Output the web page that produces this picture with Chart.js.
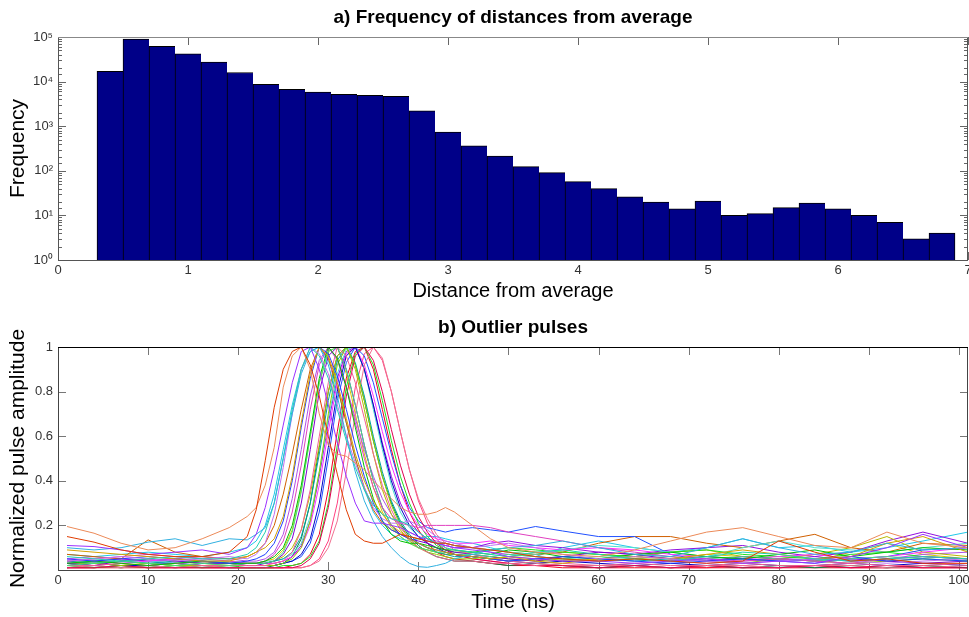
<!DOCTYPE html>
<html>
<head>
<meta charset="utf-8">
<script src="https://cdn.jsdelivr.net/npm/chart.js@4.4.0/dist/chart.umd.min.js"></script>
<style>
    body { margin: 0; background: #fff; }
    canvas { display: block; }
</style>
</head>
<body>
<canvas id="hist-chart" width="969" height="310"></canvas>
<canvas id="pulse-chart" width="969" height="307"></canvas>
<script>
// ---- a) histogram ----
const binCenters = [0.4, 0.6, 0.8, 1.0, 1.2, 1.4, 1.6, 1.8, 2.0, 2.2, 2.4, 2.6, 2.8, 3.0, 3.2, 3.4, 3.6,
    3.8, 4.0, 4.2, 4.4, 4.6, 4.8, 5.0, 5.2, 5.4, 5.6, 5.8, 6.0, 6.2, 6.4, 6.6, 6.8];
const binCounts = [17000, 90000, 62000, 42000, 27500, 16000, 8700, 6700, 5800, 5200, 4900, 4700, 2200, 740, 365,
    215, 124, 91, 57, 40, 26, 20, 14, 21, 10, 11, 15, 19, 14, 10, 7, 3, 4];
const distTicks = [0, 1, 2, 3, 4, 5, 6, 7];

// ---- b) outlier pulses, sampled on a shared time grid (ns) ----
const timeNs = [1, 4, 7, 10, 13, 16, 19, 21, 22, 23, 24, 25, 26, 27, 28, 29, 30, 31, 32, 33, 34, 35, 36, 37, 38, 39,
    40, 41, 42, 43, 44, 46, 48, 50, 53, 56, 60, 64, 68, 72, 76, 80, 84, 88, 92, 96, 101];

const pulseRed = [0.15, 0.125, 0.09, 0.07, 0.06, 0.06, 0.08, 0.15,
    0.27, 0.49, 0.73, 0.9, 0.98, 1.0, 0.92, 0.78, 0.6, 0.43, 0.27, 0.16, 0.13, 0.12, 0.12, 0.14, 0.16, 0.15, 0.14, 0.13, 0.12, 0.12, 0.11,
    0.1, 0.09, 0.08, 0.06, 0.05, 0.04, 0.05, 0.04, 0.03, 0.04, 0.13, 0.08, 0.04, 0.05, 0.03, 0.03];
const pulseSalmon = [0.195, 0.165, 0.12, 0.09, 0.1, 0.14, 0.19, 0.24,
    0.28, 0.38, 0.55, 0.82, 0.96, 1.0, 0.9, 0.7, 0.56, 0.52, 0.51, 0.48, 0.45, 0.4, 0.36, 0.32, 0.28, 0.26, 0.25, 0.25, 0.26, 0.28, 0.26,
    0.2, 0.14, 0.1, 0.08, 0.07, 0.06, 0.09, 0.13, 0.17, 0.19, 0.15, 0.11, 0.1, 0.17, 0.12, 0.1];
const pulsePurple = [0.11, 0.105, 0.09, 0.07, 0.08, 0.09, 0.07, 0.1,
    0.16, 0.28, 0.45, 0.65, 0.84, 0.98, 1.0, 0.9, 0.74, 0.57, 0.42, 0.3, 0.22, 0.21, 0.21, 0.2, 0.19, 0.17, 0.15, 0.13, 0.12, 0.11, 0.1,
    0.09, 0.08, 0.06, 0.05, 0.04, 0.04, 0.03, 0.04, 0.05, 0.03, 0.04, 0.03, 0.06, 0.1, 0.16, 0.1];
const pulseSky = [0.1, 0.09, 0.1, 0.125, 0.14, 0.11, 0.14, 0.135,
    0.16, 0.19, 0.3, 0.5, 0.7, 0.88, 0.98, 1.0, 0.92, 0.78, 0.6, 0.44, 0.31, 0.22, 0.15, 0.1, 0.06, 0.03, 0.015, 0.012, 0.02, 0.03, 0.05,
    0.07, 0.09, 0.1, 0.11, 0.13, 0.1, 0.07, 0.06, 0.1, 0.14, 0.1, 0.07, 0.08, 0.12, 0.09, 0.1];
const pulseTurquoise = [0.06, 0.05, 0.04, 0.05, 0.06, 0.05, 0.05, 0.07,
    0.1, 0.17, 0.3, 0.5, 0.72, 0.9, 1.0, 0.96, 0.86, 0.72, 0.58, 0.46, 0.36, 0.29, 0.25, 0.23, 0.22, 0.2, 0.17, 0.14, 0.12, 0.1, 0.09,
    0.08, 0.07, 0.06, 0.08, 0.09, 0.07, 0.05, 0.04, 0.06, 0.08, 0.07, 0.05, 0.04, 0.05, 0.06, 0.05];
const pulseLilac = [0.04, 0.05, 0.06, 0.05, 0.04, 0.05, 0.06, 0.05,
    0.07, 0.12, 0.25, 0.46, 0.7, 0.9, 1.0, 0.97, 0.88, 0.74, 0.6, 0.48, 0.37, 0.28, 0.23, 0.21, 0.21, 0.22, 0.2, 0.18, 0.15, 0.13, 0.12,
    0.1, 0.11, 0.12, 0.1, 0.07, 0.05, 0.06, 0.05, 0.04, 0.03, 0.04, 0.05, 0.04, 0.03, 0.04, 0.05];
const pulseGold = [0.09, 0.08, 0.07, 0.06, 0.05, 0.04, 0.04, 0.06,
    0.08, 0.1, 0.14, 0.24, 0.42, 0.66, 0.88, 1.0, 0.96, 0.84, 0.68, 0.52, 0.4, 0.31, 0.25, 0.2, 0.17, 0.14, 0.12, 0.1, 0.09, 0.08, 0.07,
    0.06, 0.05, 0.06, 0.04, 0.03, 0.05, 0.06, 0.05, 0.07, 0.09, 0.07, 0.05, 0.06, 0.12, 0.15, 0.08];
const pulseBlue = [0.05, 0.04, 0.05, 0.06, 0.05, 0.04, 0.03, 0.04,
    0.05, 0.07, 0.12, 0.22, 0.4, 0.64, 0.86, 1.0, 0.97, 0.87, 0.72, 0.56, 0.42, 0.3, 0.22, 0.18, 0.16, 0.14, 0.12, 0.1, 0.09, 0.08, 0.07,
    0.06, 0.05, 0.04, 0.05, 0.06, 0.05, 0.04, 0.03, 0.04, 0.05, 0.04, 0.05, 0.06, 0.04, 0.05, 0.04];
const pulseGreen = [0.03, 0.04, 0.03, 0.02, 0.03, 0.04, 0.03, 0.03,
    0.03, 0.04, 0.06, 0.1, 0.2, 0.38, 0.62, 0.86, 1.0, 0.95, 0.82, 0.64, 0.46, 0.32, 0.22, 0.16, 0.13, 0.12, 0.12, 0.11, 0.1, 0.09, 0.09,
    0.08, 0.07, 0.09, 0.08, 0.06, 0.05, 0.07, 0.08, 0.06, 0.05, 0.07, 0.09, 0.06, 0.08, 0.1, 0.09];
const pulseMagenta = [0.04, 0.05, 0.06, 0.07, 0.06, 0.05, 0.04, 0.03,
    0.03, 0.04, 0.07, 0.13, 0.26, 0.47, 0.72, 0.92, 1.0, 0.95, 0.82, 0.66, 0.5, 0.37, 0.28, 0.23, 0.21, 0.2, 0.19, 0.2, 0.2, 0.2, 0.2,
    0.2, 0.19, 0.17, 0.15, 0.13, 0.1, 0.08, 0.06, 0.05, 0.04, 0.05, 0.04, 0.03, 0.05, 0.06, 0.05];
const pulseMint = [0.02, 0.03, 0.04, 0.03, 0.02, 0.03, 0.02, 0.03,
    0.03, 0.03, 0.04, 0.08, 0.17, 0.35, 0.6, 0.84, 0.98, 1.0, 0.9, 0.74, 0.56, 0.4, 0.28, 0.2, 0.15, 0.12, 0.1, 0.09, 0.08, 0.08, 0.07,
    0.07, 0.06, 0.07, 0.06, 0.05, 0.06, 0.05, 0.04, 0.05, 0.06, 0.05, 0.04, 0.05, 0.06, 0.05, 0.04];
const pulsePink = [0.02, 0.02, 0.03, 0.02, 0.03, 0.02, 0.02, 0.02,
    0.02, 0.02, 0.03, 0.04, 0.08, 0.18, 0.36, 0.6, 0.84, 1.0, 0.96, 0.84, 0.68, 0.52, 0.38, 0.27, 0.19, 0.14, 0.1, 0.08, 0.06, 0.05, 0.04,
    0.04, 0.03, 0.03, 0.02, 0.03, 0.02, 0.03, 0.02, 0.02, 0.03, 0.02, 0.02, 0.03, 0.02, 0.02, 0.03];
const pulseViolet = [0.03, 0.02, 0.04, 0.05, 0.04, 0.03, 0.03, 0.02,
    0.02, 0.03, 0.04, 0.07, 0.14, 0.3, 0.54, 0.8, 0.96, 1.0, 0.9, 0.74, 0.56, 0.4, 0.28, 0.2, 0.16, 0.14, 0.13, 0.12, 0.1, 0.09, 0.08,
    0.07, 0.06, 0.05, 0.04, 0.06, 0.08, 0.07, 0.05, 0.04, 0.06, 0.05, 0.04, 0.05, 0.04, 0.03, 0.04];
const pulseLime = [0.03, 0.03, 0.02, 0.03, 0.02, 0.02, 0.02, 0.02,
    0.02, 0.02, 0.02, 0.03, 0.05, 0.1, 0.22, 0.44, 0.7, 0.92, 1.0, 0.92, 0.76, 0.58, 0.42, 0.29, 0.2, 0.14, 0.1, 0.08, 0.07, 0.06, 0.05,
    0.05, 0.06, 0.05, 0.04, 0.05, 0.04, 0.05, 0.06, 0.04, 0.03, 0.05, 0.04, 0.03, 0.04, 0.05, 0.04];
const pulseCrimson = [0.01, 0.01, 0.02, 0.01, 0.01, 0.01, 0.01, 0.01,
    0.01, 0.01, 0.01, 0.01, 0.01, 0.02, 0.05, 0.12, 0.28, 0.52, 0.78, 0.96, 1.0, 0.94, 0.8, 0.63, 0.47, 0.34, 0.24, 0.17, 0.12, 0.09, 0.07,
    0.05, 0.04, 0.03, 0.02, 0.02, 0.01, 0.02, 0.01, 0.02, 0.01, 0.01, 0.02, 0.01, 0.02, 0.01, 0.01];
const pulseRose = [0.01, 0.02, 0.01, 0.02, 0.01, 0.02, 0.01, 0.01,
    0.01, 0.01, 0.01, 0.01, 0.01, 0.01, 0.02, 0.04, 0.1, 0.22, 0.44, 0.7, 0.92, 1.0, 0.95, 0.8, 0.62, 0.45, 0.32, 0.23, 0.16, 0.12, 0.09,
    0.07, 0.05, 0.04, 0.03, 0.02, 0.02, 0.02, 0.01, 0.02, 0.02, 0.01, 0.02, 0.02, 0.01, 0.01, 0.02];
const pulseTeal = [0.04, 0.03, 0.04, 0.03, 0.04, 0.03, 0.03, 0.03,
    0.03, 0.03, 0.04, 0.05, 0.08, 0.15, 0.3, 0.52, 0.76, 0.94, 1.0, 0.93, 0.78, 0.6, 0.44, 0.31, 0.22, 0.16, 0.12, 0.1, 0.08, 0.07, 0.06,
    0.06, 0.05, 0.04, 0.05, 0.06, 0.05, 0.04, 0.05, 0.06, 0.05, 0.04, 0.05, 0.04, 0.05, 0.06, 0.05];
const pulseNavy = [0.02, 0.03, 0.02, 0.02, 0.03, 0.02, 0.02, 0.02,
    0.02, 0.02, 0.02, 0.03, 0.04, 0.07, 0.14, 0.3, 0.55, 0.8, 0.96, 1.0, 0.9, 0.74, 0.56, 0.4, 0.28, 0.2, 0.15, 0.12, 0.1, 0.08, 0.07,
    0.06, 0.05, 0.04, 0.03, 0.04, 0.03, 0.02, 0.03, 0.02, 0.03, 0.02, 0.02, 0.03, 0.02, 0.03, 0.02];
const pulseFuchsia = [0.05, 0.04, 0.03, 0.04, 0.05, 0.04, 0.03, 0.03,
    0.03, 0.03, 0.03, 0.04, 0.06, 0.1, 0.2, 0.38, 0.62, 0.84, 0.97, 1.0, 0.92, 0.78, 0.62, 0.47, 0.35, 0.26, 0.2, 0.16, 0.14, 0.13, 0.12,
    0.12, 0.13, 0.11, 0.1, 0.09, 0.1, 0.09, 0.07, 0.06, 0.05, 0.06, 0.07, 0.05, 0.06, 0.08, 0.1];
const pulseAqua = [0.03, 0.04, 0.03, 0.04, 0.03, 0.04, 0.04, 0.03,
    0.03, 0.04, 0.04, 0.05, 0.07, 0.12, 0.24, 0.44, 0.68, 0.88, 0.99, 1.0, 0.9, 0.72, 0.54, 0.38, 0.26, 0.19, 0.15, 0.13, 0.12, 0.12, 0.11,
    0.1, 0.09, 0.08, 0.07, 0.09, 0.11, 0.1, 0.08, 0.06, 0.1, 0.13, 0.1, 0.09, 0.08, 0.1, 0.12];
const pulseBrightGreen = [0.02, 0.01, 0.02, 0.01, 0.02, 0.01, 0.02, 0.01,
    0.01, 0.01, 0.01, 0.02, 0.02, 0.03, 0.06, 0.13, 0.3, 0.56, 0.82, 0.97, 1.0, 0.92, 0.76, 0.58, 0.42, 0.3, 0.21, 0.15, 0.11, 0.09, 0.08,
    0.08, 0.09, 0.1, 0.09, 0.08, 0.07, 0.06, 0.08, 0.09, 0.07, 0.06, 0.05, 0.07, 0.08, 0.06, 0.05];
const pulseRoyal = [0.03, 0.03, 0.04, 0.03, 0.03, 0.02, 0.02, 0.02,
    0.02, 0.02, 0.02, 0.03, 0.04, 0.06, 0.12, 0.26, 0.5, 0.76, 0.93, 1.0, 0.96, 0.84, 0.68, 0.52, 0.38, 0.28, 0.22, 0.19, 0.18, 0.17, 0.18,
    0.19, 0.18, 0.17, 0.195, 0.175, 0.15, 0.15, 0.07, 0.04, 0.05, 0.04, 0.03, 0.05, 0.06, 0.09, 0.1];
const pulseRust = [0.07, 0.06, 0.05, 0.135, 0.08, 0.06, 0.05, 0.06,
    0.08, 0.12, 0.2, 0.34, 0.52, 0.72, 0.9, 1.0, 0.95, 0.82, 0.66, 0.5, 0.37, 0.27, 0.21, 0.18, 0.16, 0.15, 0.14, 0.13, 0.12, 0.12, 0.11,
    0.1, 0.09, 0.08, 0.07, 0.08, 0.12, 0.15, 0.15, 0.12, 0.1, 0.13, 0.16, 0.1, 0.08, 0.12, 0.11];
const pulseOlive = [0.02, 0.03, 0.02, 0.03, 0.02, 0.03, 0.02, 0.03,
    0.03, 0.03, 0.04, 0.06, 0.1, 0.18, 0.34, 0.56, 0.8, 0.96, 1.0, 0.9, 0.72, 0.52, 0.36, 0.25, 0.18, 0.13, 0.1, 0.09, 0.08, 0.07, 0.07,
    0.06, 0.05, 0.06, 0.07, 0.08, 0.07, 0.06, 0.08, 0.09, 0.06, 0.05, 0.07, 0.1, 0.15, 0.08, 0.06];
const pulseIndigo = [0.03, 0.04, 0.05, 0.04, 0.03, 0.04, 0.03, 0.03,
    0.03, 0.03, 0.03, 0.04, 0.06, 0.11, 0.22, 0.42, 0.66, 0.86, 0.98, 1.0, 0.9, 0.74, 0.57, 0.42, 0.3, 0.22, 0.17, 0.14, 0.12, 0.11, 0.1,
    0.1, 0.12, 0.13, 0.11, 0.1, 0.08, 0.07, 0.09, 0.1, 0.11, 0.08, 0.06, 0.08, 0.13, 0.17, 0.12];
const pulseForest = [0.01, 0.02, 0.01, 0.02, 0.01, 0.02, 0.01, 0.01,
    0.01, 0.01, 0.02, 0.03, 0.06, 0.14, 0.3, 0.55, 0.8, 0.96, 1.0, 0.92, 0.76, 0.58, 0.42, 0.3, 0.21, 0.15, 0.11, 0.08, 0.06, 0.05, 0.04,
    0.04, 0.03, 0.02, 0.03, 0.02, 0.01, 0.02, 0.01, 0.02, 0.01, 0.02, 0.01, 0.02, 0.01, 0.02, 0.01];
const pulseCyan = [0.07, 0.06, 0.07, 0.08, 0.07, 0.06, 0.08, 0.1,
    0.13, 0.2, 0.34, 0.54, 0.74, 0.9, 0.98, 1.0, 0.94, 0.82, 0.66, 0.5, 0.36, 0.26, 0.2, 0.16, 0.14, 0.13, 0.14, 0.15, 0.15, 0.14, 0.13,
    0.12, 0.1, 0.08, 0.06, 0.1, 0.13, 0.1, 0.08, 0.1, 0.14, 0.1, 0.11, 0.08, 0.1, 0.13, 0.17];
const pulseScarlet = [0.01, 0.01, 0.01, 0.01, 0.01, 0.01, 0.01, 0.01,
    0.01, 0.01, 0.01, 0.01, 0.02, 0.03, 0.07, 0.16, 0.36, 0.62, 0.86, 0.98, 1.0, 0.9, 0.72, 0.54, 0.38, 0.26, 0.18, 0.12, 0.08, 0.06, 0.05,
    0.04, 0.03, 0.02, 0.02, 0.01, 0.01, 0.01, 0.01, 0.01, 0.01, 0.01, 0.01, 0.01, 0.01, 0.01, 0.01];
const pulseOrchid = [0.05, 0.06, 0.05, 0.04, 0.05, 0.06, 0.05, 0.04,
    0.04, 0.05, 0.08, 0.16, 0.32, 0.54, 0.78, 0.94, 1.0, 0.94, 0.82, 0.68, 0.54, 0.42, 0.32, 0.25, 0.2, 0.17, 0.15, 0.14, 0.13, 0.12, 0.11,
    0.1, 0.08, 0.07, 0.06, 0.05, 0.04, 0.05, 0.04, 0.03, 0.04, 0.05, 0.06, 0.04, 0.05, 0.07, 0.08];
const pulseYellow = [0.04, 0.03, 0.04, 0.05, 0.04, 0.03, 0.04, 0.03,
    0.03, 0.04, 0.05, 0.09, 0.18, 0.36, 0.6, 0.84, 0.98, 1.0, 0.88, 0.7, 0.52, 0.37, 0.26, 0.19, 0.15, 0.12, 0.1, 0.09, 0.08, 0.07, 0.07,
    0.06, 0.05, 0.06, 0.05, 0.04, 0.05, 0.06, 0.05, 0.07, 0.06, 0.05, 0.04, 0.08, 0.12, 0.07, 0.05];
const pulseHotPink = [0.01, 0.01, 0.02, 0.01, 0.02, 0.01, 0.01, 0.01,
    0.01, 0.01, 0.01, 0.01, 0.01, 0.01, 0.02, 0.05, 0.13, 0.3, 0.56, 0.82, 0.97, 1.0, 0.94, 0.8, 0.62, 0.45, 0.31, 0.21, 0.14, 0.1, 0.07,
    0.05, 0.04, 0.03, 0.02, 0.02, 0.01, 0.02, 0.01, 0.01, 0.02, 0.01, 0.02, 0.01, 0.01, 0.02, 0.01];

const pulses = [pulseRed, pulseSalmon, pulsePurple, pulseSky, pulseTurquoise, pulseLilac, pulseGold, pulseBlue,
    pulseGreen, pulseMagenta, pulseMint, pulsePink, pulseViolet, pulseLime, pulseCrimson, pulseRose, pulseTeal,
    pulseNavy, pulseFuchsia, pulseAqua, pulseBrightGreen, pulseRoyal, pulseRust, pulseOlive, pulseIndigo,
    pulseForest, pulseCyan, pulseScarlet, pulseOrchid, pulseYellow, pulseHotPink];
const pulseColors = ["#e03c00", "#ec8a58", "#9b30ff", "#30b0e0", "#20d0b0", "#c070f0", "#d4a000", "#2040ff",
    "#00c000", "#e040c0", "#40e080", "#f06090", "#8000d0", "#90d000", "#e00050", "#f07090", "#00a0a0",
    "#0000c0", "#ff30ff", "#50e0d0", "#20e020", "#2050ff", "#d06000", "#b8b800", "#9010e0",
    "#008040", "#20c8e8", "#f00020", "#b050e8", "#d8c800", "#ff4080"];

const FONT = '"Liberation Sans", Arial, sans-serif';
const superDigits = ["⁰", "¹", "²", "³", "⁴", "⁵"];

function isPow10(v) {
    const e = Math.log10(v);
    return Math.abs(e - Math.round(e)) < 1e-9;
}

// MATLAB style frame: inward ticks on all four sides, titles
const matlabAxes = {
    id: "matlabAxes",
    beforeDatasetsDraw(chart, args, opts) {
        const { ctx, chartArea: a, scales: { x, y } } = chart;
        ctx.save();
        ctx.strokeStyle = opts.tickColor;
        ctx.lineWidth = 1;
        ctx.beginPath();
        x.ticks.forEach(t => {
            const px = Math.round(x.getPixelForValue(t.value)) + 0.5;
            ctx.moveTo(px, a.bottom);
            ctx.lineTo(px, a.bottom - opts.tickLen);
            ctx.moveTo(px, a.top);
            ctx.lineTo(px, a.top + opts.tickLen);
        });
        y.ticks.forEach(t => {
            const py = Math.round(y.getPixelForValue(t.value)) + 0.5;
            const len = opts.logY && !isPow10(t.value) ? opts.minorLen : opts.tickLen;
            ctx.moveTo(a.left, py);
            ctx.lineTo(a.left + len, py);
            ctx.moveTo(a.right, py);
            ctx.lineTo(a.right - len, py);
        });
        ctx.stroke();
        ctx.restore();
    },
    afterDraw(chart, args, opts) {
        const { ctx, chartArea: a } = chart;
        ctx.save();
        ctx.lineWidth = 1;
        ctx.strokeStyle = opts.boxColor;
        ctx.beginPath();
        ctx.moveTo(a.left + 0.5, a.top);
        ctx.lineTo(a.left + 0.5, a.bottom + 0.5);
        ctx.lineTo(a.right - 0.5, a.bottom + 0.5);
        ctx.lineTo(a.right - 0.5, a.top);
        ctx.stroke();
        ctx.strokeStyle = opts.topColor;
        ctx.beginPath();
        ctx.moveTo(a.left, a.top + 0.5);
        ctx.lineTo(a.right, a.top + 0.5);
        ctx.stroke();

        ctx.fillStyle = "#000";
        ctx.textAlign = "center";
        ctx.textBaseline = "middle";
        ctx.font = "bold 19px " + FONT;
        ctx.fillText(opts.title, (a.left + a.right) / 2, 18);
        ctx.font = "21px " + FONT;
        ctx.translate(18.5, (a.top + a.bottom) / 2);
        ctx.rotate(-Math.PI / 2);
        ctx.fillText(opts.yTitle, 0, 0);
        ctx.restore();
    }
};

const tickFont = { family: FONT, size: 13 };

function createHistogram() {
    const lastBar = binCounts.length - 1;
    new Chart(document.getElementById("hist-chart"), {
        type: "bar",
        data: {
            datasets: [{
                data: binCenters.map((c, i) => ({ x: c, y: binCounts[i] })),
                backgroundColor: "#000088",
                borderColor: "#000000",
                borderWidth: ctx => ({ top: 1, left: 1, bottom: 0, right: ctx.dataIndex === lastBar ? 1 : 0 }),
                barPercentage: 1,
                categoryPercentage: 1
            }]
        },
        options: {
            responsive: false,
            animation: false,
            events: [],
            layout: { padding: { top: 37, right: 1, left: 0, bottom: 0 } },
            plugins: {
                legend: { display: false },
                tooltip: { enabled: false },
                matlabAxes: {
                    title: "a) Frequency of distances from average",
                    yTitle: "Frequency",
                    tickColor: "#666",
                    boxColor: "#555",
                    topColor: "#888",
                    tickLen: 8,
                    minorLen: 4,
                    logY: true
                }
            },
            scales: {
                x: {
                    type: "linear",
                    offset: false,
                    min: distTicks[0],
                    max: distTicks[distTicks.length - 1],
                    grid: { display: false, drawTicks: false },
                    border: { display: false },
                    ticks: { stepSize: 1, padding: 3, color: "#333", font: tickFont, maxRotation: 0 },
                    title: {
                        display: true,
                        text: "Distance from average",
                        color: "#000",
                        font: { family: FONT, size: 20 },
                        padding: { top: 0, bottom: 7 }
                    },
                    afterFit(scale) {
                        scale.height = 50;
                        scale.paddingLeft = 0;
                        scale.paddingRight = 0;
                    }
                },
                y: {
                    type: "logarithmic",
                    min: 1,
                    max: 100000,
                    grid: { display: false, drawTicks: false },
                    border: { display: false },
                    ticks: {
                        autoSkip: false,
                        padding: 5,
                        color: "#333",
                        font: tickFont,
                        callback: v => isPow10(v) ? "10" + superDigits[Math.round(Math.log10(v))] : ""
                    },
                    afterFit(scale) {
                        scale.width = 58;
                    }
                }
            }
        },
        plugins: [matlabAxes]
    });
}

function createPulseChart() {
    new Chart(document.getElementById("pulse-chart"), {
        type: "line",
        data: {
            datasets: pulses.map((p, i) => ({
                data: timeNs.map((t, j) => ({ x: t, y: p[j] })),
                borderColor: pulseColors[i],
                borderWidth: 1,
                pointRadius: 0,
                tension: 0,
                fill: false
            }))
        },
        options: {
            responsive: false,
            animation: false,
            events: [],
            layout: { padding: { top: 37, right: 1, left: 0, bottom: 0 } },
            plugins: {
                legend: { display: false },
                tooltip: { enabled: false },
                matlabAxes: {
                    title: "b) Outlier pulses",
                    yTitle: "Normalized pulse amplitude",
                    tickColor: "#777",
                    boxColor: "#444",
                    topColor: "#000",
                    tickLen: 8,
                    minorLen: 8,
                    logY: false
                }
            },
            scales: {
                x: {
                    type: "linear",
                    min: 0,
                    max: 101,
                    grid: { display: false, drawTicks: false },
                    border: { display: false },
                    ticks: { stepSize: 10, includeBounds: false, padding: 3, color: "#333", font: tickFont, maxRotation: 0 },
                    title: {
                        display: true,
                        text: "Time (ns)",
                        color: "#000",
                        font: { family: FONT, size: 20 },
                        padding: { top: 0, bottom: 3 }
                    },
                    afterFit(scale) {
                        scale.height = 47;
                        scale.paddingLeft = 0;
                        scale.paddingRight = 0;
                    }
                },
                y: {
                    type: "linear",
                    min: 0,
                    max: 1,
                    grid: { display: false, drawTicks: false },
                    border: { display: false },
                    ticks: {
                        stepSize: 0.2,
                        padding: 5,
                        color: "#333",
                        font: tickFont,
                        callback: v => v === 0 ? "" : String(+v.toFixed(1))
                    },
                    afterFit(scale) {
                        scale.width = 58;
                    }
                }
            }
        },
        plugins: [matlabAxes]
    });
}

createHistogram();
createPulseChart();
</script>
</body>
</html>
